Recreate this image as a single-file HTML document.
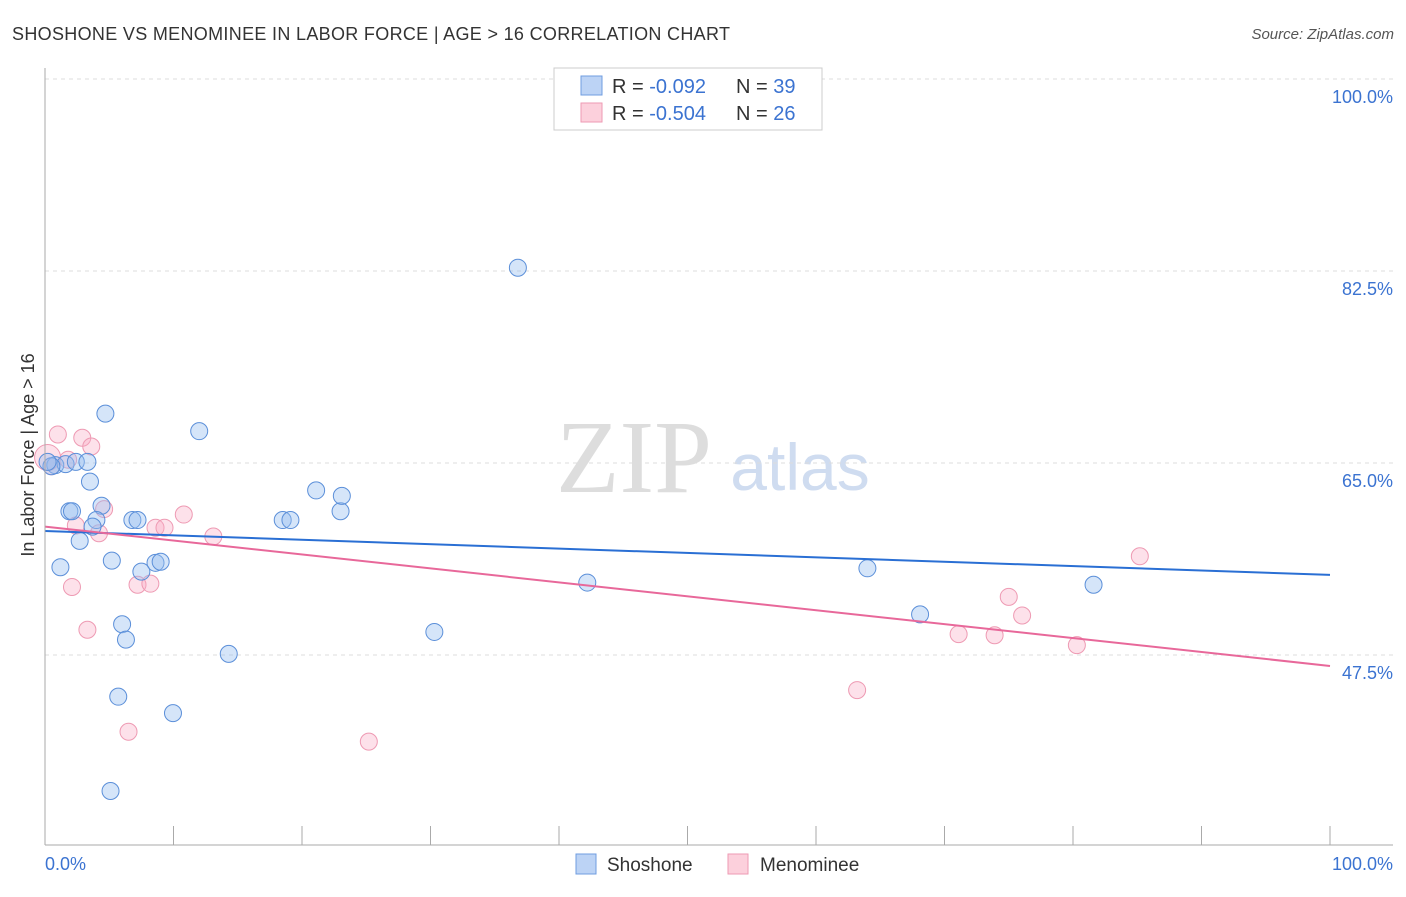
<!DOCTYPE html>
<html><head><meta charset="utf-8"><style>
body{margin:0;background:#fff;font-family:"Liberation Sans",sans-serif}
svg text{font-family:"Liberation Sans",sans-serif}
</style></head><body>
<svg id="c" width="1406" height="892">
<text x="12" y="40" font-size="18" fill="#333" textLength="718">SHOSHONE VS MENOMINEE IN LABOR FORCE | AGE &gt; 16 CORRELATION CHART</text>
<text x="1394" y="39" font-size="15" fill="#555" font-style="italic" text-anchor="end">Source: ZipAtlas.com</text>
<text x="634" y="492" font-size="104" fill="#ddd" style="font-family:'Liberation Serif',serif" text-anchor="middle">ZIP</text>
<text x="800" y="490" font-size="66" fill="#cfdcf0" text-anchor="middle">atlas</text>
<text transform="translate(34,455) rotate(-90)" font-size="18" fill="#333" text-anchor="middle">In Labor Force | Age &gt; 16</text>
<g id="grid"></g><g id="pts"></g><g id="lines"></g>
<line x1="45" y1="68" x2="45" y2="845" stroke="#aaa"/>
<line x1="45" y1="845" x2="1393" y2="845" stroke="#aaa"/>
<text x="45" y="870" font-size="18" fill="#3b73d1">0.0%</text>
<text x="1393" y="870" font-size="18" fill="#3b73d1" text-anchor="end">100.0%</text>
<g>
<rect x="554" y="68" width="268" height="62" fill="#fff" stroke="#ccc"/>
<rect x="581" y="76" width="21" height="19" fill="#bcd3f5" stroke="#6f9ce0"/>
<rect x="581" y="103" width="21" height="19" fill="#fcd0dc" stroke="#ee9ab3"/>
<text x="612" y="93" font-size="20" fill="#333">R = <tspan fill="#3b73d1">-0.092</tspan><tspan x="736">N = </tspan><tspan fill="#3b73d1">39</tspan></text>
<text x="612" y="120" font-size="20" fill="#333">R = <tspan fill="#3b73d1">-0.504</tspan><tspan x="736">N = </tspan><tspan fill="#3b73d1">26</tspan></text>
</g>
<g><rect x="576" y="854" width="20" height="20" fill="#bcd3f5" stroke="#6f9ce0"/><text x="607" y="871" font-size="19" fill="#333">Shoshone</text></g>
<g><rect x="728" y="854" width="20" height="20" fill="#fcd0dc" stroke="#ee9ab3"/><text x="760" y="871" font-size="19" fill="#333">Menominee</text></g>
</svg>
<script>
const yTicks=[100,82.5,65,47.5];
const xTicks=[0,10,20,30,40,50,60,70,80,90,100];
const shoX=[0.8,1.6,0.5,2.4,3.3,4.7,12,3.5,4.4,4,3.7,1.9,2.1,2.7,5.2,1.2,6.8,7.2,7.5,8.6,9,6,6.3,5.7,9.96,5.1,14.3,18.5,19.1,21.1,23,23.1,30.3,36.8,42.2,64,68.1,81.6,0.2];
const shoY=[64.8,64.9,64.7,65.1,65.1,69.5,67.9,63.3,61.1,59.8,59.2,60.6,60.6,57.9,56.1,55.5,59.8,59.8,55.1,55.9,56,50.3,48.9,43.7,42.2,35.1,47.6,59.8,59.8,62.5,60.6,62,49.6,82.8,54.1,55.4,51.2,53.9,65.1];
const menX=[1,2.9,3.6,0.5,1.8,4.6,2.4,4.2,8.6,9.3,10.8,13.1,2.1,7.2,8.2,3.3,6.5,25.2,63.2,71.1,73.9,75,76.04,80.3,85.2,0.2];
const menY=[67.6,67.3,66.5,64.7,65.3,60.8,59.3,58.6,59.1,59.1,60.3,58.3,53.7,53.9,54,49.8,40.5,39.6,44.3,49.4,49.3,52.8,51.1,48.4,56.5,65.5];
const shoTrend=[58.8,54.8], menTrend=[59.2,46.5];
const X=v=>45+v*12.85, Y=v=>79+(100-v)*10.971;
const ns='http://www.w3.org/2000/svg';
function mk(t,a,p){const e=document.createElementNS(ns,t);for(const k in a)e.setAttribute(k,a[k]);p.appendChild(e);return e;}
const g=document.getElementById('grid');
yTicks.forEach(t=>{
 const l=mk('line',{x1:45,x2:1393,y1:Y(t),y2:Y(t),stroke:'#ddd','stroke-dasharray':'4,4'},g);
 
 
 const tx=mk('text',{x:1393,y:Y(t)+24,'font-size':18,fill:'#3b73d1','text-anchor':'end'},g);
 tx.textContent=t.toFixed(1)+'%';
 
 
});
xTicks.forEach(t=>{
 const l=mk('line',{x1:X(t),x2:X(t),y1:826,y2:845,stroke:'#aaa'},g);
 
 
});
const p=document.getElementById('pts');
menX.forEach((v,i)=>{
 const c=mk('circle',{cx:X(v),cy:Y(menY[i]),r:i==25?13:8.5,fill:'rgba(248,170,195,0.35)',stroke:'#ee9ab3','stroke-width':1},p);
 
 
});
shoX.forEach((v,i)=>{
 const c=mk('circle',{cx:X(v),cy:Y(shoY[i]),r:8.5,fill:'rgba(150,190,240,0.4)',stroke:'#5b8fd9','stroke-width':1},p);
 
 
});
const L=document.getElementById('lines');
const a=mk('line',{x1:X(0),x2:X(100),y1:Y(shoTrend[0]),y2:Y(shoTrend[1]),stroke:'#2a6fd4','stroke-width':2},L);


const b=mk('line',{x1:X(0),x2:X(100),y1:Y(menTrend[0]),y2:Y(menTrend[1]),stroke:'#e8689a','stroke-width':2},L);


</script>
</body></html>
